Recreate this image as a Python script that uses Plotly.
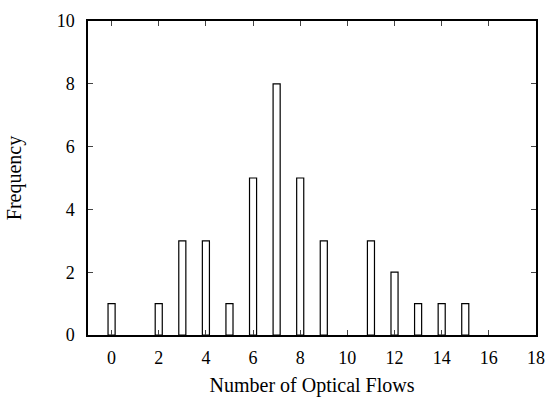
import plotly.graph_objects as go

flows = [0, 2, 3, 4, 5, 6, 7, 8, 9, 11, 12, 13, 14, 15]
freq = [1, 1, 3, 3, 1, 5, 8, 5, 3, 3, 2, 1, 1, 1]
x_ticks = list(range(0, 19, 2))
y_ticks = list(range(0, 11, 2))

fig = go.Figure(go.Bar(
    x=flows, y=freq, width=0.3,
    marker=dict(color="white", line=dict(color="black", width=1.2)),
))

font = dict(family="Liberation Serif, Times New Roman, serif", size=17, color="black")
tickfont = dict(family="Liberation Serif, Times New Roman, serif", size=18, color="black")
fig.update_layout(
    width=554, height=397,
    margin=dict(l=88, r=18, t=21, b=62),
    plot_bgcolor="white", paper_bgcolor="white",
    font=font, showlegend=False,
)
fig.update_xaxes(
    range=[-1, 18], tickvals=x_ticks, ticks="inside", ticklen=5,
    showline=True, linecolor="black", linewidth=1.5, mirror="ticks",
    showgrid=False, zeroline=False, tickfont=tickfont, ticklabelstandoff=6,
    automargin=False,
    title=dict(text="Number of Optical Flows", standoff=12),
)
fig.update_yaxes(
    range=[0, 10], tickvals=y_ticks, ticks="inside", ticklen=5,
    showline=True, linecolor="black", linewidth=1.5, mirror="ticks",
    showgrid=False, zeroline=False, tickfont=tickfont, ticklabelstandoff=8,
    automargin=False,
    title=dict(text="Frequency", standoff=30),
)
fig.write_html("out.html")
